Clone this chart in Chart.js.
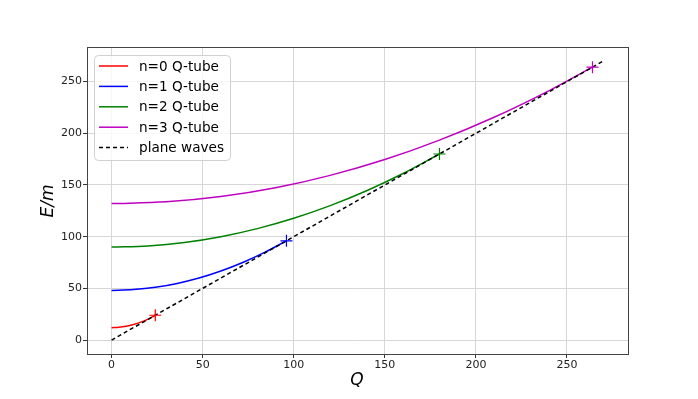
<!DOCTYPE html>
<html>
<head>
<meta charset="utf-8">
<script src="https://cdn.jsdelivr.net/npm/chart.js@4"></script>
<style>
  html, body { margin: 0; padding: 0; background: #fff; }
  #chart { display: block; }
</style>
</head>
<body>
<canvas id="chart" width="698" height="399"></canvas>
<script>
// ===== data =====
const qN0 = [0, 4, 8, 12, 16, 20, 24];
const eN0 = [12, 12.3, 13.3, 15, 17.3, 20.3, 24];

const qN1 = [0, 12, 24, 36, 48, 60, 72, 84, 96];
const eN1 = [48, 48.8, 51, 54.8, 60, 66.8, 75, 84.8, 96];

const qN2 = [0, 20, 40, 60, 80, 100, 120, 140, 160, 180];
const eN2 = [90, 91.1, 94.4, 100, 107.8, 117.8, 130, 144.4, 161.1, 180];

const qN3 = [0, 30, 60, 90, 120, 150, 180, 210, 240, 264];
const eN3 = [132, 133.7, 138.8, 147.3, 159.3, 174.6, 193.4, 215.5, 241.1, 264];

const qPlane = [0, 270];
const ePlane = [0, 270];

// end points of each tube (crosses)
const crossQ = [24, 96, 180, 264];
const crossE = [24, 96, 180, 264];

const seriesNames = ["n=0 Q-tube", "n=1 Q-tube", "n=2 Q-tube", "n=3 Q-tube", "plane waves"];
const seriesColors = ["#ff0000", "#0000ff", "#008000", "#bf00bf", "#000000"];
const xTicks = [0, 50, 100, 150, 200, 250];
const yTicks = [0, 50, 100, 150, 200, 250];

const FONT = "'DejaVu Sans', sans-serif";

function pts(xs, ys){ return xs.map((x, i) => ({ x, y: ys[i] })); }

// ===== datasets =====
const curves = [[qN0, eN0], [qN1, eN1], [qN2, eN2], [qN3, eN3]].map((c, i) => ({
  label: seriesNames[i],
  data: pts(c[0], c[1]),
  borderColor: seriesColors[i],
  borderWidth: 1.5,
  pointRadius: 0,
  showLine: true,
  cubicInterpolationMode: "monotone",
  order: 10 - i
}));

const plane = {
  label: seriesNames[4],
  data: pts(qPlane, ePlane),
  borderColor: "#000",
  borderWidth: 1.5,
  borderDash: [4, 3],
  pointRadius: 0,
  showLine: true,
  order: 3
};

const crosses = crossQ.map((q, i) => ({
  label: "end " + i,
  data: [{ x: q, y: crossE[i] }],
  showLine: false,
  pointStyle: "cross",
  pointRadius: 6,
  pointBorderWidth: 1.2,
  pointBorderColor: seriesColors[i],
  pointBackgroundColor: seriesColors[i],
  order: 1
}));

// ===== plugins: frame, axis titles, legend inside =====
const framePlugin = {
  id: "frame",
  afterDatasetsDraw(chart){
    const { ctx, chartArea: a } = chart;
    ctx.save();
    ctx.strokeStyle = "#444";
    ctx.lineWidth = 1;
    ctx.strokeRect(a.left + 0.5, a.top + 0.5, a.right - a.left, a.bottom - a.top);
    ctx.restore();
  }
};

const titlesPlugin = {
  id: "titles",
  afterDraw(chart){
    const { ctx } = chart;
    ctx.save();
    ctx.fillStyle = "#000";
    ctx.font = "italic 17px " + FONT;
    ctx.textAlign = "center";
    ctx.textBaseline = "middle";
    ctx.fillText("Q", 357, 381);
    ctx.translate(49, 201);
    ctx.rotate(-Math.PI / 2);
    ctx.fillText("E/m", 0, 0);
    ctx.restore();
  }
};

const legendPlugin = {
  id: "boxLegend",
  afterDraw(chart){
    const { ctx } = chart;
    const x = 94.5, y = 55.5, w = 136, h = 105, r = 4;
    ctx.save();
    ctx.beginPath();
    ctx.roundRect(x, y, w, h, r);
    ctx.fillStyle = "rgba(255,255,255,0.8)";
    ctx.fill();
    ctx.strokeStyle = "#d0d0d0";
    ctx.lineWidth = 1;
    ctx.stroke();
    ctx.font = "13.6px " + FONT;
    ctx.textBaseline = "middle";
    ctx.textAlign = "left";
    seriesNames.forEach((name, i) => {
      const yy = 66 + i * 20.4;
      ctx.beginPath();
      ctx.strokeStyle = seriesColors[i];
      ctx.lineWidth = 1.5;
      ctx.setLineDash(i === 4 ? [4, 3] : []);
      ctx.moveTo(99, yy);
      ctx.lineTo(128, yy);
      ctx.stroke();
      ctx.setLineDash([]);
      ctx.fillStyle = "#000";
      ctx.fillText(name, 139, yy + 1);
    });
    ctx.restore();
  }
};

// ===== chart =====
new Chart(document.getElementById("chart"), {
  type: "scatter",
  data: { datasets: [...curves, plane, ...crosses] },
  options: {
    responsive: false,
    animation: false,
    devicePixelRatio: 1,
    layout: { padding: { top: 47, right: 70, left: 0, bottom: 0 } },
    plugins: {
      legend: { display: false },
      tooltip: { enabled: false }
    },
    scales: {
      x: {
        type: "linear",
        min: -13.5, max: 283.5,
        afterFit: s => { s.height = 45; },
        afterBuildTicks: s => { s.ticks = xTicks.map(v => ({ value: v })); },
        grid: { color: "#d6d6d6", lineWidth: 1, tickColor: "#333", tickLength: 4 },
        border: { display: false },
        ticks: { color: "#222", font: { family: FONT, size: 11 }, padding: 1, maxRotation: 0 }
      },
      y: {
        type: "linear",
        min: -13.5, max: 283.5,
        afterFit: s => { s.width = 87; },
        afterBuildTicks: s => { s.ticks = yTicks.map(v => ({ value: v })); },
        grid: { color: "#d6d6d6", lineWidth: 1, tickColor: "#333", tickLength: 4 },
        border: { display: false },
        ticks: { color: "#222", font: { family: FONT, size: 11 }, padding: 1 }
      }
    }
  },
  plugins: [framePlugin, titlesPlugin, legendPlugin]
});
</script>
</body>
</html>
